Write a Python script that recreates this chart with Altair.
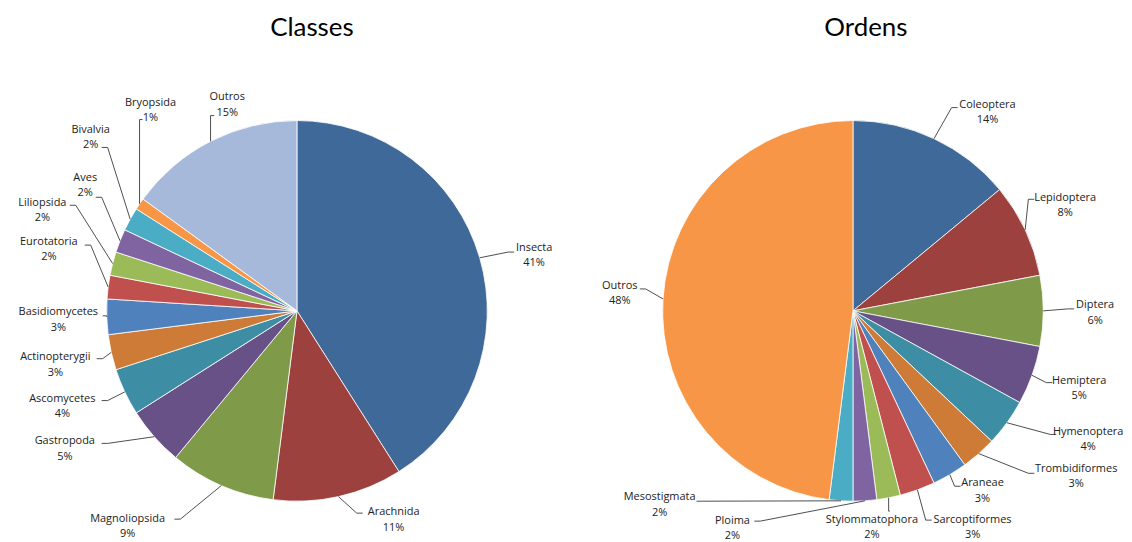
import altair as alt
import numpy as np
import pandas as pd

# ---------------- data ----------------
classes_names = ["Insecta", "Arachnida", "Magnoliopsida", "Gastropoda", "Ascomycetes",
                 "Actinopterygii", "Basidiomycetes", "Eurotatoria", "Liliopsida", "Aves",
                 "Bivalvia", "Bryopsida", "Outros"]
classes_values = [41, 11, 9, 5, 4, 3, 3, 2, 2, 2, 2, 1, 15]

ordens_names = ["Coleoptera", "Lepidoptera", "Diptera", "Hemiptera", "Hymenoptera",
                "Trombidiformes", "Araneae", "Sarcoptiformes", "Stylommatophora",
                "Ploima", "Mesostigmata", "Outros"]
ordens_values = [14, 8, 6, 5, 4, 3, 3, 3, 2, 2, 2, 48]

# ---------------- styles ----------------
DARK = ["#3F6998", "#9D413E", "#7F9A49", "#685186", "#3D8DA4", "#CD7B36"]
LIGHT = ["#4F81BD", "#C0504D", "#9BBB59", "#8064A2", "#4BACC6", "#F79646"]
classes_colors = DARK + LIGHT + ["#A7B9DA"]
ordens_colors = DARK + LIGHT

LABEL_FONT = "Open Sans"
TITLE_FONT = "Lato"
R = 191
H = 518
CY = 303  # pie centre, px from panel top
LH = 15.5  # label line height

# label layout (block centre, leader anchor), px relative to pie centre, y up
classes_layout = {
    "Insecta": ((238, 55.5), (218, 59)),
    "Arachnida": ((97, -210), (66, -203)),
    "Magnoliopsida": ((-170, -216.5), (-123, -209)),
    "Gastropoda": ((-233, -138.5), (-196, -133)),
    "Ascomycetes": ((-235.5, -96), (-196, -90)),
    "Actinopterygii": ((-242.5, -54.5), (-201, -48)),
    "Basidiomycetes": ((-239.5, -9), (-195, -5)),
    "Eurotatoria": ((-249, 61.5), (-213, 66)),
    "Liliopsida": ((-255.5, 100.5), (-228, 106)),
    "Aves": ((-212.5, 126), (-202, 114)),
    "Bivalvia": ((-207, 174), (-196, 164)),
    "Bryopsida": ((-147, 201), (-155, 192)),
    "Outros": ((-70, 206.5), (-83, 196)),
}
ordens_layout = {
    "Coleoptera": ((135, 199), (105, 204)),
    "Lepidoptera": ((213, 106), (182, 112)),
    "Diptera": ((243, -2), (222, 2)),
    "Hemiptera": ((227, -78), (200, -72)),
    "Hymenoptera": ((236, -129), (204, -124)),
    "Trombidiformes": ((224, -166.5), (182, -163)),
    "Araneae": ((130, -181), (108, -176)),
    "Sarcoptiformes": ((120, -217.5), (79, -210)),
    "Stylommatophora": ((19, -217.5), (37, -201)),
    "Ploima": ((-121, -218.5), (-99, -211)),
    "Mesostigmata": ((-194, -195), (-157, -191)),
    "Outros": ((-234, 17.5), (-214, 22)),
}


def panel(title, names, values, colors, layout, width, title_dx):
    half = width / 2
    xs = alt.Scale(domain=[-half, half], nice=False, zero=False)
    ys = alt.Scale(domain=[CY - H, CY], nice=False, zero=False)

    vals = np.array(values, dtype=float)
    cum = np.cumsum(vals)
    mid = (cum - vals / 2) / vals.sum() * 2 * np.pi
    ex = R * np.sin(mid)
    ey = R * np.cos(mid)

    pie_df = pd.DataFrame({"name": names, "value": values, "idx": range(len(names))})

    lab_rows, line_rows = [], []
    for i, n in enumerate(names):
        (bx, by), (ax, ay) = layout[n]
        # first line sits half a line above the block centre
        lab_rows.append({"name": n, "lx": bx, "ly": by + LH / 2,
                         "label": f"{n}\n{values[i]}%"})
        dx = ex[i] - ax
        step = np.sign(dx) * min(6, abs(dx))
        pts = [(ax, ay), (ax + step, ay), (ex[i], ey[i])]
        for s, (px, py) in enumerate(pts):
            line_rows.append({"name": n, "seq": s, "px": px, "py": py})
    lab_df = pd.DataFrame(lab_rows)
    line_df = pd.DataFrame(line_rows)
    title_df = pd.DataFrame({"t": [title], "tx": [title_dx], "ty": [284]})

    arcs = alt.Chart(pie_df).mark_arc(radius=R, stroke="white", strokeWidth=0.8).encode(
        theta=alt.Theta("value:Q", stack=True),
        order=alt.Order("idx:Q"),
        color=alt.Color("name:N", scale=alt.Scale(domain=names, range=colors), legend=None),
        x=alt.XDatum(0, scale=xs, axis=None),
        y=alt.YDatum(0, scale=ys, axis=None),
    )
    leaders = alt.Chart(line_df).mark_line(color="#3a3a3a", strokeWidth=0.9).encode(
        x=alt.X("px:Q", scale=xs, axis=None),
        y=alt.Y("py:Q", scale=ys, axis=None),
        detail="name:N",
        order="seq:Q",
    )
    labels = alt.Chart(lab_df).mark_text(
        font=LABEL_FONT, fontSize=11, lineBreak="\n", lineHeight=LH,
        align="center", baseline="middle", color="#222222"
    ).encode(
        x=alt.X("lx:Q", scale=xs, axis=None),
        y=alt.Y("ly:Q", scale=ys, axis=None),
        text="label:N",
    )
    ttl = alt.Chart(title_df).mark_text(
        font=TITLE_FONT, fontSize=26, align="center", baseline="middle", color="black"
    ).encode(
        x=alt.X("tx:Q", scale=xs, axis=None),
        y=alt.Y("ty:Q", scale=ys, axis=None),
        text="t:N",
    )
    return alt.layer(arcs, leaders, labels, ttl).properties(width=width, height=H)


left = panel("Classes", classes_names, classes_values, classes_colors, classes_layout, 580, 15)
right = panel("Ordens", ordens_names, ordens_values, ordens_colors, ordens_layout, 536, 13)

chart = alt.hconcat(left, right, spacing=0).resolve_scale(
    color="independent", x="independent", y="independent", theta="independent"
).properties(padding=0, background="white").configure_view(stroke=None)

chart.save("out.html", embed_options={"renderer": "svg", "actions": False})
